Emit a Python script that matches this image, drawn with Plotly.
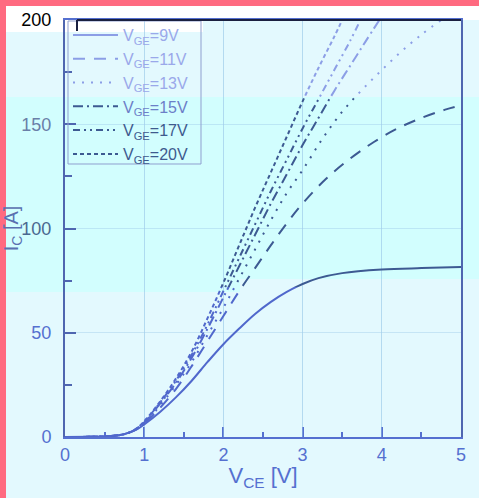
import plotly.graph_objects as go

# ---- data ----
V_9 = [0, 0.5, 0.7, 0.8, 0.9, 1.0, 1.2, 1.4, 1.6, 1.8, 2.0, 2.2, 2.4, 2.6, 2.8, 3.0, 3.2, 3.5, 4.0, 4.5, 5.0]
I_9 = [0, 0.3, 1, 2, 3.5, 6, 12, 19, 27, 36, 44.5, 52, 59, 64.8, 69.6, 73.4, 76.2, 78.6, 80.3, 81, 81.5]

V_11 = [0, 0.5, 0.7, 0.8, 0.9, 1.0, 1.2, 1.4, 1.6, 1.8, 2.0, 2.2, 2.4, 2.6, 2.8, 3.0, 3.3, 3.6, 3.9, 4.2, 4.5, 4.8, 5.0]
I_11 = [0, 0.3, 1, 2, 3.6, 6.5, 14, 23, 34, 46, 58, 70, 81, 92, 102.5, 112, 124, 133.5, 141.5, 148, 153, 157, 159]

V_13 = [0, 0.5, 0.7, 0.8, 0.9, 1.0, 1.2, 1.4, 1.6, 1.8, 2.0, 2.2, 2.4, 2.6, 2.8, 3.0, 3.25, 3.5, 3.75, 4.0, 4.25, 4.5, 4.75]
I_13 = [0, 0.3, 1, 2, 3.7, 6.8, 15, 25, 36, 49, 62, 76, 90, 104, 117, 128, 143, 156, 166.5, 176, 185, 193, 200]

V_15 = [0, 0.5, 0.7, 0.8, 0.9, 1.0, 1.2, 1.4, 1.6, 1.8, 2.0, 2.2, 2.4, 2.6, 2.8, 3.0, 3.2, 3.4, 3.6, 3.8, 3.97]
I_15 = [0, 0.3, 1, 2, 3.8, 7, 16, 26, 38, 52, 67, 82, 97, 112, 126, 140, 153, 166, 178, 190, 200]

V_17 = [0, 0.5, 0.7, 0.8, 0.9, 1.0, 1.2, 1.4, 1.6, 1.8, 2.0, 2.2, 2.4, 2.6, 2.8, 3.0, 3.2, 3.4, 3.6, 3.73]
I_17 = [0, 0.3, 1, 2, 3.9, 7.3, 16.5, 27, 39.5, 54, 70, 86, 102, 118, 133, 148, 162, 176, 190, 200]

V_20 = [0, 0.5, 0.7, 0.8, 0.9, 1.0, 1.2, 1.4, 1.6, 1.8, 2.0, 2.2, 2.4, 2.6, 2.8, 3.0, 3.2, 3.4, 3.5]
I_20 = [0, 0.3, 1, 2, 4, 7.5, 17, 28, 41, 57, 74, 92, 110, 127, 144, 161, 177, 192, 200]

series_names = ["9V", "11V", "13V", "15V", "17V", "20V"]
series_V = [V_9, V_11, V_13, V_15, V_17, V_20]
series_I = [I_9, I_11, I_13, I_15, I_17, I_20]
series_dash = ["solid", "12px,9px", "2px,7px", "10px,4px,2px,4px", "7px,4px,2px,4px,2px,4px", "4px,3px"]
legend_text_colors = ["#9AA8EA", "#9AA8EA", "#9AA8EA", "#6C7FC8", "#3E5A8E", "#3E5A8E"]
legend_band = [0, 0, 0, 1, 1, 1]   # which colour band the legend sample uses

x_tickvals = [0, 1, 2, 3, 4, 5]
y_tickvals = [0, 50, 100, 150, 200]
y_ticktext = [
    '<span style="color:#5570D0">0</span>',
    '<span style="color:#5570D0">50</span>',
    '<span style="color:#4A6890">100</span>',
    '<span style="color:#6A7FA8">150</span>',
    '<span style="color:#000000">200</span>',
]

# colour bands of the scanned picture (current limits in A) and line colours
band_limits = [(163.0, 200.0), (72.0, 163.0), (0.0, 72.0)]
band_colors = ["#8C9EE6", "#3D5A92", "#5068CC"]

FONT = "Arial, 'Liberation Sans', sans-serif"

fig = go.Figure()
# empty trace so that the main x/y axes pair is drawn
fig.add_trace(go.Scatter(x=[], y=[], xaxis="x", yaxis="y", showlegend=False, hoverinfo="skip"))
for k, (name, vs, cur, dash, tc, lb) in enumerate(zip(series_names, series_V, series_I,
                                                       series_dash, legend_text_colors, legend_band)):
    for b, col in enumerate(band_colors):
        fig.add_trace(go.Scatter(
            x=vs, y=cur, mode="lines", line_shape="spline",
            line=dict(color=col, width=2, dash=dash),
            xaxis="x", yaxis=f"y{b + 2}",
            name=f'<span style="color:{tc}">V<sub>GE</sub>={name}</span>',
            legendgroup=name, showlegend=(b == lb), legendrank=k + 1,
        ))

W, H = 479, 498
L, R, T, B = 65, 18, 20, 61
pw, ph = W - L - R, H - T - B


def px(x):
    return (x - L) / pw


def py(y):
    return (H - B - y) / ph


shapes = []


def rect(x0, y0, x1, y1, color):
    shapes.append(dict(type="rect", xref="paper", yref="paper",
                       x0=px(x0), x1=px(x1), y0=py(y1), y1=py(y0),
                       fillcolor=color, line=dict(width=0), layer="below"))


# background bands
rect(6, 97, 240, 292, "#D2FEFE")
rect(240, 97, 479, 279, "#D2FEFE")
rect(6, 6, 479, 20, "#FFFFFF")
rect(6, 20, 203, 32, "#FFFFFF")
# pink frame
rect(0, 0, 479, 6, "#FF6A80")
rect(0, 0, 6, 498, "#FF6A80")
# legend frame
shapes.append(dict(type="rect", xref="paper", yref="paper",
                   x0=px(68), x1=px(201), y0=py(164), y1=py(21),
                   line=dict(color="#8F9FCF", width=1), fillcolor="rgba(0,0,0,0)", layer="above"))
# dark top line and legend corner
shapes.append(dict(type="line", xref="paper", yref="paper",
                   x0=px(77), x1=1, y0=1, y1=1,
                   line=dict(color="#1A2040", width=2), layer="above"))
shapes.append(dict(type="line", xref="paper", yref="paper",
                   x0=px(77), x1=px(77), y0=py(31), y1=1,
                   line=dict(color="#1A2040", width=2), layer="above"))

hidden_axes = {}
for b, (lo, hi) in enumerate(band_limits):
    hidden_axes[f"yaxis{b + 2}"] = dict(range=[lo, hi], domain=[lo / 200.0, hi / 200.0],
                                        anchor="x", visible=False, fixedrange=True,
                                        showgrid=False, zeroline=False)

fig.update_layout(
    width=W, height=H,
    margin=dict(l=L, r=R, t=T, b=B, pad=0),
    paper_bgcolor="#E3F9FE",
    plot_bgcolor="rgba(0,0,0,0)",
    font=dict(family=FONT, size=18, color="#5570D0"),
    shapes=shapes,
    showlegend=True,
    legend=dict(
        x=px(68), y=py(18), xanchor="left", yanchor="top",
        bgcolor="rgba(0,0,0,0)", borderwidth=0,
        font=dict(family=FONT, size=16), itemwidth=45,
        tracegroupgap=0, traceorder="normal",
    ),
    xaxis=dict(
        range=[0, 5], tickvals=x_tickvals, ticks="inside", ticklen=10, tickwidth=1.5,
        tickcolor="#5570D0", showline=True, linecolor="#5570D0", linewidth=2, mirror=True,
        showgrid=True, gridcolor="rgba(160,205,235,0.45)", gridwidth=1, zeroline=False,
        minor=dict(dtick=0.5, ticks="inside", ticklen=5, tickcolor="#5570D0", showgrid=False),
        tickfont=dict(size=18, color="#5570D0"),
        title=dict(text="V<sub>CE</sub> [V]", font=dict(size=22, color="#5570D0"), standoff=4),
        automargin=False, anchor="y",
    ),
    yaxis=dict(
        range=[0, 200], domain=[0, 1], tickvals=y_tickvals, ticktext=y_ticktext, ticks="inside",
        ticklen=11, tickwidth=1.5, anchor="x",
        tickcolor="#4F66B0", showline=True, linecolor="#4F66B0", linewidth=2, mirror=True,
        showgrid=True, gridcolor="rgba(160,205,235,0.45)", gridwidth=1, zeroline=False,
        minor=dict(dtick=25, ticks="inside", ticklen=7, tickcolor="#4F66B0", showgrid=False),
        tickfont=dict(size=18),
        ticklabelstandoff=8,
        title=dict(text="I<sub>C</sub> [A]", font=dict(size=20, color="#5A70B0"), standoff=4),
        automargin=False,
    ),
    **hidden_axes,
)

fig.write_html("out.html")
